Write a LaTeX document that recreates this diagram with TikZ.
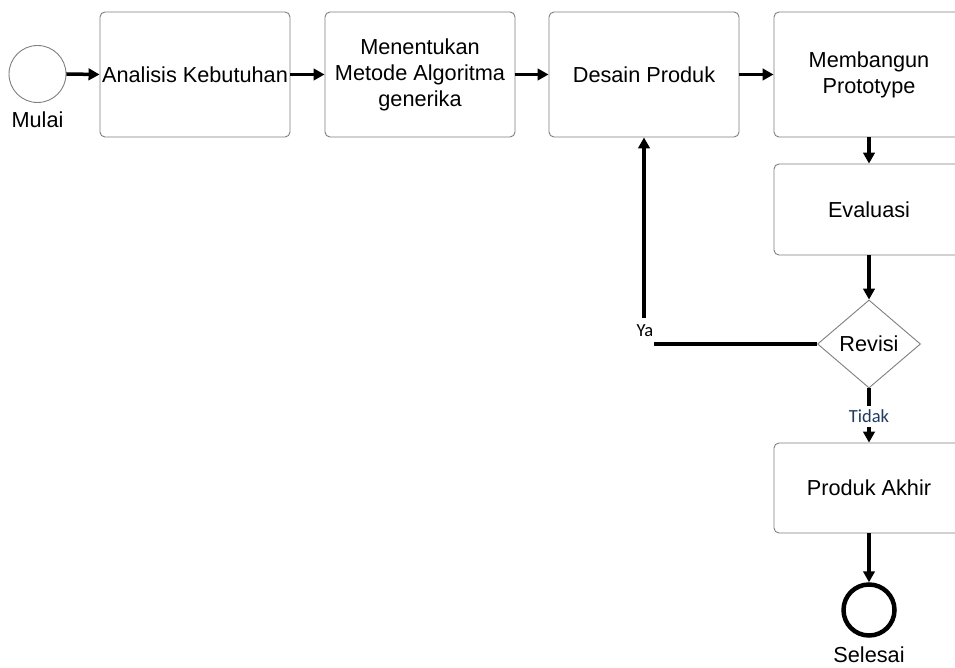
\documentclass[tikz,border=0pt]{standalone}
\usepackage{fontspec}
\setmainfont{Liberation Sans}
\newfontfamily\calib{Carlito}
\usetikzlibrary{arrows.meta,shapes.geometric}
\definecolor{bordergray}{HTML}{7F7F7F}
\definecolor{tidakcol}{HTML}{1F3A5F}
\tikzset{
  procbox/.style={draw=bordergray, line width=0.9pt, rounded corners=5pt, rectangle,
    minimum width=190pt, minimum height=125pt, align=center, inner sep=0pt,
    font=\fontsize{21.7}{26}\selectfont},
  flow/.style={line width=3.5pt, -{Triangle[length=11pt,width=11.5pt]}},
  plainline/.style={line width=3.5pt},
  bigtext/.style={font=\fontsize{21.7}{26}\selectfont, inner sep=0pt},
  smalltext/.style={font=\calib\fontsize{18.5}{20}\selectfont, inner sep=0pt},
}
\begin{document}
\begin{tikzpicture}[x=1pt,y=-1pt]
\useasboundingbox (0,0) rectangle (955,668);
\clip (0,0) rectangle (955,668);
\fill[white] (0,0) rectangle (955,668);
% start
\node[circle, draw=bordergray, line width=0.9pt, minimum size=57pt, inner sep=0pt] (start) at (37.5,74) {};
\node[bigtext] (startlbl) at (37.5,120) {Mulai};
% process boxes
\node[procbox] (a) at (195,74.5) {Analisis Kebutuhan};
\node[procbox] (b) at (420,74.5) {Menentukan\\Metode Algoritma\\generika};
\node[procbox] (c) at (644,74.5) {Desain Produk};
\node[procbox] (d) at (869,74.5) {Membangun\\Prototype};
\node[procbox, minimum height=91pt] (e) at (869,209.5) {Evaluasi};
\node[diamond, draw=bordergray, line width=0.9pt, minimum width=103pt, minimum height=88pt, inner sep=0pt, aspect=1.17, bigtext] (f) at (869,344) {Revisi};
\node[procbox, minimum height=90pt] (g) at (869,488) {Produk Akhir};
\node[circle, draw=black, line width=4.5pt, minimum size=51pt, inner sep=0pt] (end) at (869,610) {};
\node[bigtext] (endlbl) at (869,655) {Selesai};
% connectors
\draw[flow] (start.east) -- (a.west);
\draw[flow] (a.east) -- (b.west);
\draw[flow] (b.east) -- (c.west);
\draw[flow] (c.east) -- (d.west);
\draw[flow] (d.south) -- (e.north);
\draw[flow] (e.south) -- (f.north);
% Ya branch
\coordinate (yaend) at (654,344);
\coordinate (yastart) at (644,318);
\draw[plainline] (f.west) -- (yaend);
\draw[flow] (yastart) -- (c.south);
\node[smalltext] (ya) at (645,331) {Ya};
% Tidak branch
\coordinate (tdk1) at (869,406);
\coordinate (tdk2) at (869,427);
\draw[plainline] (f.south) -- (tdk1);
\node[smalltext, text=tidakcol] (tidak) at (869,416) {Tidak};
\draw[flow] (tdk2) -- (g.north);
\draw[flow] (g.south) -- (end.north);
\end{tikzpicture}
\end{document}
